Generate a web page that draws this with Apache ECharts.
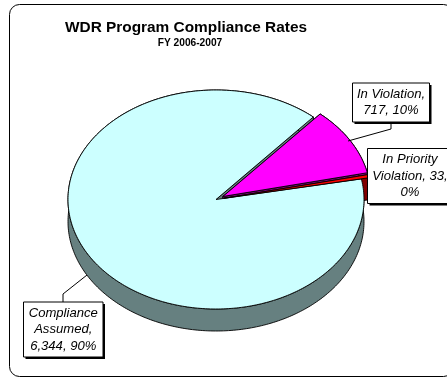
<!DOCTYPE html>
<html><head><meta charset="utf-8">
<style>html,body{margin:0;padding:0;background:#fff;overflow:hidden}#c{width:447px;height:378px}</style>
<script src="https://cdn.jsdelivr.net/npm/echarts@6/dist/echarts.min.js"></script>
</head><body><div id="c"></div>
<script>
var categories = ['Compliance Assumed', 'In Violation', 'In Priority Violation'];
var values = [6344, 717, 33];
var percents = ['90%', '10%', '0%'];
var topColors = ['#CCFFFF', '#FF00FF', '#FF0000'];
var wallColors = ['#668080', '#800080', '#800000'];
var explode = [0, 8, 8];
var firstAngle = 48.9; // degrees above the +x axis, where "In Violation" begins, running clockwise

var CX = 216, CY = 199.5, RX = 148, RY = 109.5, DEPTH = 22;
var total = values.reduce(function (a, b) { return a + b; }, 0);
var rad = Math.PI / 180;

var order = [1, 2, 0], spans = {}, cursor = firstAngle;
order.forEach(function (i) {
  var sweep = values[i] / total * 360;
  spans[i] = { from: cursor, to: cursor - sweep };
  cursor -= sweep;
});

function sliceGeom(i) {
  var s = spans[i];
  var mid = (s.from + s.to) / 2 * rad;
  var ox = CX + explode[i] * Math.cos(mid);
  var oy = CY - explode[i] * RY / RX * Math.sin(mid);
  var arc = [], n = Math.max(2, Math.ceil(s.from - s.to));
  for (var k = 0; k <= n; k++) {
    var a = (s.from + (s.to - s.from) * k / n) * rad;
    arc.push([ox + RX * Math.cos(a), oy - RY * Math.sin(a)]);
  }
  return { ox: ox, oy: oy, arc: arc };
}
function st(fill) { return { fill: fill, stroke: '#000', lineWidth: 0.9, lineJoin: 'round' }; }

function renderWalls(params, api) {
  var i = api.value(0), g = sliceGeom(i), arc = g.arc, ox = g.ox, oy = g.oy;
  function quad(p) { return [[ox, oy], p, [p[0], p[1] + DEPTH], [ox, oy + DEPTH]]; }
  var wall = arc.concat(arc.slice().reverse().map(function (p) { return [p[0], p[1] + DEPTH]; }));
  return { type: 'group', children: [
    { type: 'polygon', shape: { points: quad(arc[0]) }, style: st(wallColors[i]) },
    { type: 'polygon', shape: { points: quad(arc[arc.length - 1]) }, style: st(wallColors[i]) },
    { type: 'polygon', shape: { points: wall }, style: st(wallColors[i]) }
  ] };
}
function renderTops(params, api) {
  var i = api.value(0), g = sliceGeom(i);
  return { type: 'polygon', shape: { points: [[g.ox, g.oy]].concat(g.arc) }, style: st(topColors[i]) };
}

function labelBox(x, y, w, h, lines, leader) {
  var out = [];
  if (leader) out.push({ type: 'polyline', shape: { points: leader }, style: { stroke: '#000', lineWidth: 1, fill: null }, z: 5 });
  out.push({ type: 'rect', shape: { x: x + 2, y: y + 2, width: w, height: h }, style: { fill: '#000' }, z: 6 });
  out.push({ type: 'rect', shape: { x: x, y: y, width: w, height: h }, style: { fill: '#fff', stroke: '#000', lineWidth: 1 }, z: 7 });
  out.push({ type: 'text', x: x + w / 2, y: y + h / 2, z: 8, style: {
    text: lines.join('\n'), align: 'center', verticalAlign: 'middle',
    font: 'italic 13.1px "Liberation Sans", Arial, sans-serif', lineHeight: 16.5, fill: '#000' } });
  return out;
}
function fmt(n) { return n.toLocaleString('en-US'); }

var graphics = [
  { type: 'rect', shape: { x: 9.5, y: 4.5, width: 444, height: 372, r: 10 }, style: { fill: '#fff', stroke: '#000', lineWidth: 1 }, z: -1 },
  { type: 'text', x: 186, y: 27.5, z: 8, style: { text: 'WDR Program Compliance Rates', align: 'center', verticalAlign: 'middle', font: 'bold 15.4px "Liberation Sans", Arial, sans-serif', fill: '#000' } },
  { type: 'text', x: 190, y: 43, z: 8, style: { text: 'FY 2006-2007', align: 'center', verticalAlign: 'middle', font: 'bold 10.2px "Liberation Sans", Arial, sans-serif', fill: '#000' } }
]
.concat(labelBox(352.5, 83, 77, 39, ['In Violation,', fmt(values[1]) + ', ' + percents[1]], [[391, 122], [391, 129], [348, 141]]))
.concat(labelBox(367.5, 148.5, 85, 55, ['In Priority', 'Violation, ' + fmt(values[2]) + ',', percents[2]], null))
.concat(labelBox(23.5, 302, 79.5, 55, ['Compliance', 'Assumed,', fmt(values[0]) + ', ' + percents[0]], [[63, 302], [63, 294], [87, 275]]));

var sliceRows = [[0], [1], [2]];
var chart = echarts.init(document.getElementById('c'), null, { renderer: 'canvas' });
chart.setOption({
  animation: false,
  backgroundColor: '#fff',
  graphic: { elements: graphics },
  series: [
    { type: 'custom', coordinateSystem: 'none', renderItem: renderWalls, z: 2, data: sliceRows },
    { type: 'custom', coordinateSystem: 'none', renderItem: renderTops, z: 3, data: sliceRows }
  ]
});
</script></body></html>
